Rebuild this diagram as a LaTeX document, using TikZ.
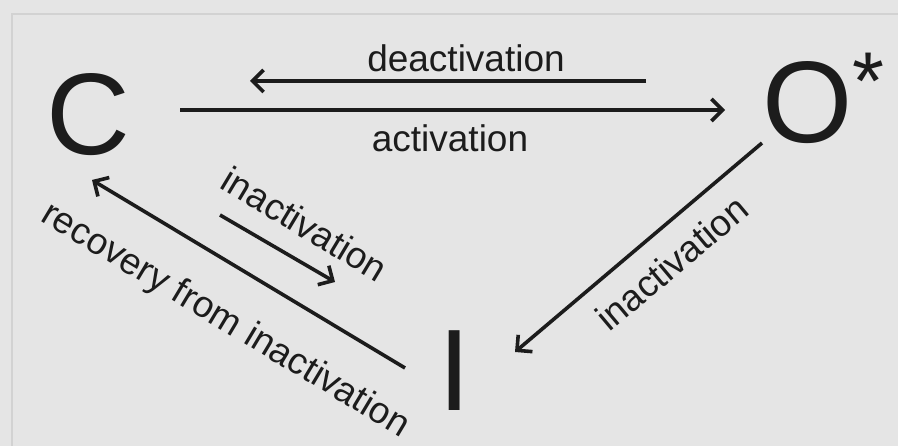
\documentclass[tikz,border=0pt]{standalone}
\usepackage{fontspec}
\setmainfont{Liberation Sans}
\usetikzlibrary{arrows.meta}
\definecolor{bg}{RGB}{229,229,229}
\definecolor{frame}{RGB}{210,210,210}
\definecolor{ink}{RGB}{28,28,28}
\tikzset{
  state/.style={inner sep=0pt, text=ink, font=\fontsize{116}{116}\selectfont},
  lbl/.style={inner sep=0pt, text=ink, font=\fontsize{37}{40}\selectfont},
  arr/.style={draw=ink, line width=3.6pt, -{Straight Barb[length=11pt,width=22pt]}},
}
\begin{document}
\begin{tikzpicture}[x=1pt,y=-1pt]
\fill[bg] (0,0) rectangle (898,446);
\useasboundingbox (0,0) rectangle (898,446);
\draw[frame, line width=1.2pt] (898,14) -- (12,14) -- (12,446);
% states
\node[state, anchor=base west] (C) at (46,155) {C};
\node[state, anchor=base west] (O) at (762,143) {O\raisebox{33pt}{\fontsize{82}{82}\selectfont*}};
\node[state, anchor=base] (I) at (455,411) {I};
% connector ends
\coordinate (deS) at (646,81);
\coordinate (deE) at (250,81);
\coordinate (acS) at (180,110);
\coordinate (acE) at (725,110);
\coordinate (oiS) at (762,143);
\coordinate (oiE) at (515,352);
\coordinate (ciS) at (220,215);
\coordinate (ciE) at (335,282);
\coordinate (reS) at (405,368);
\coordinate (reE) at (92,180);
\draw[arr] (deS) -- (deE);
\draw[arr] (acS) -- (acE);
\draw[arr] (oiS) -- (oiE);
\draw[arr] (ciS) -- (ciE);
\draw[arr] (reS) -- (reE);
% labels
\node[lbl, anchor=base] (Ldeact) at (466,72) {deactivation};
\node[lbl, anchor=base] (Lact) at (450,152) {activation};
\node[lbl, rotate=-31] (Linac1) at (305,224) {inactivation};
\node[lbl, rotate=-31] (Lrec) at (225,321) {recovery from inactivation};
\node[lbl, rotate=40] (Linac2) at (672,263) {inactivation};
\end{tikzpicture}
\end{document}
